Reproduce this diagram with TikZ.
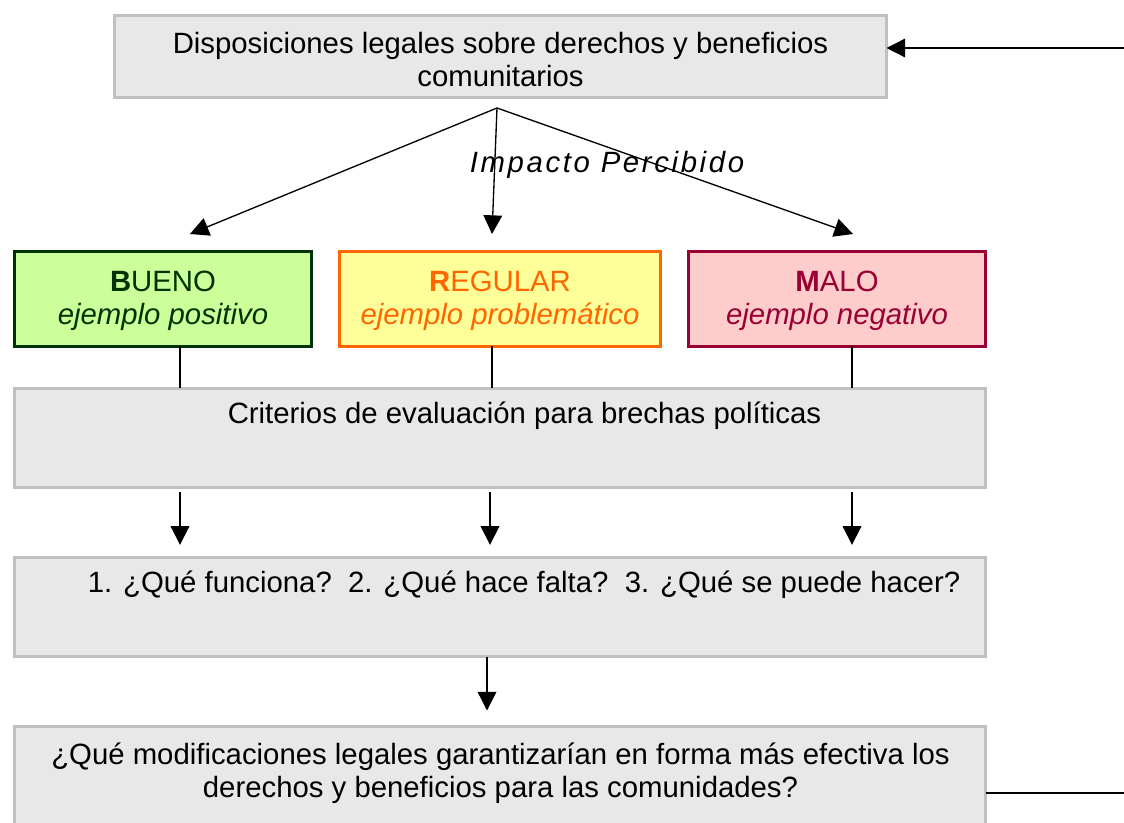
\documentclass[tikz,border=0pt]{standalone}
\usepackage{fontspec}
\setmainfont{Liberation Sans}
\newfontfamily\spacedit[LetterSpace=9]{Liberation Sans}
\usetikzlibrary{arrows.meta,calc}
\definecolor{boxfill}{HTML}{E8E8E8}
\definecolor{boxline}{HTML}{C0C0C0}
\definecolor{gfill}{HTML}{CCFF99}
\definecolor{gline}{HTML}{003300}
\definecolor{yfill}{HTML}{FFFF99}
\definecolor{yline}{HTML}{FF6600}
\definecolor{rfill}{HTML}{FFCCCC}
\definecolor{rline}{HTML}{990033}
\tikzset{
  graybox/.style={draw=boxline, fill=boxfill, line width=2.25pt, inner sep=0pt, outer sep=0pt},
  colbox/.style={line width=2.25pt, inner sep=0pt, outer sep=0pt, minimum width=297*0.75pt, minimum height=95*0.75pt},
  txt/.style={font=\fontsize{22}{24.75}\selectfont, align=center, inner sep=0pt},
  conn/.style={line width=1pt, draw=black},
  arr/.style={conn, -{Triangle[length=14pt,width=14pt]}}
}
\begin{document}
\begin{tikzpicture}[x=0.75pt,y=-0.75pt]
\useasboundingbox (0,0) rectangle (1124,823);
% boxes
\node[graybox, minimum width=772*0.75pt, minimum height=82*0.75pt] (top) at (500.5,56.5) {};
\node[colbox, draw=gline, fill=gfill] (bueno) at (163,299) {};
\node[colbox, draw=yline, fill=yfill, minimum width=321*0.75pt] (regular) at (500,299) {};
\node[colbox, draw=rline, fill=rfill] (malo) at (837,299) {};
\node[graybox, minimum width=971*0.75pt, minimum height=99*0.75pt] (crit) at (500,438) {};
\node[graybox, minimum width=971*0.75pt, minimum height=99*0.75pt] (quest) at (500,607) {};
\node[graybox, minimum width=971*0.75pt, minimum height=99*0.75pt] (final) at (500,776) {};
% texts
\node[txt] (toptxt) at (500.5,60) {Disposiciones legales sobre derechos y beneficios\\comunitarios};
\node[txt, font=\fontsize{22}{24.75}\spacedit\itshape] (impacto) at (607,165) {Impacto Percibido};
\node[txt, text=gline] (buenotxt) at (163,300.5) {\textbf{B}UENO\\\textit{ejemplo positivo}};
\node[txt, text=yline] (regulartxt) at (500,300.5) {\textbf{R}EGULAR\\\textit{ejemplo problemático}};
\node[txt, text=rline] (malotxt) at (837,300.5) {\textbf{M}ALO\\\textit{ejemplo negativo}};
\node[txt] (crittxt) at (524.5,416) {Criterios de evaluación para brechas políticas};
\node[txt] (questtxt) at (524,585) {1. ¿Qué funciona?\ \ 2. ¿Qué hace falta?\ \ 3. ¿Qué se puede hacer?};
\node[txt] (finaltxt) at (500.5,773) {¿Qué modificaciones legales garantizarían en forma más efectiva los\\derechos y beneficios para las comunidades?};
% coordinates
\coordinate (apex) at (497,108);
\coordinate (tB) at (190,234);
\coordinate (tR) at (492,234);
\coordinate (tM) at (853,234);
\coordinate (rin) at (1124,48);
\coordinate (rout) at (1124,793);
% connectors
\draw[arr] (apex) -- (tB);
\draw[arr] (apex) -- (tR);
\draw[arr] (apex) -- (tM);
\draw[arr] (rin) -- (rin -| top.east);
\draw[conn] (final.east |- rout) -- (rout);
\draw[conn] (bueno.south -| 180,0) -- (crit.north -| 180,0);
\draw[conn] (regular.south -| 492,0) -- (crit.north -| 492,0);
\draw[conn] (malo.south -| 852,0) -- (crit.north -| 852,0);
\draw[arr, shorten <=3pt, shorten >=9.5pt] (crit.south -| 180,0) -- (quest.north -| 180,0);
\draw[arr, shorten <=3pt, shorten >=9.5pt] (crit.south -| 490,0) -- (quest.north -| 490,0);
\draw[arr, shorten <=3pt, shorten >=9.5pt] (crit.south -| 852,0) -- (quest.north -| 852,0);
\draw[arr, shorten >=12pt] (quest.south -| 487,0) -- (final.north -| 487,0);
\end{tikzpicture}
\end{document}
